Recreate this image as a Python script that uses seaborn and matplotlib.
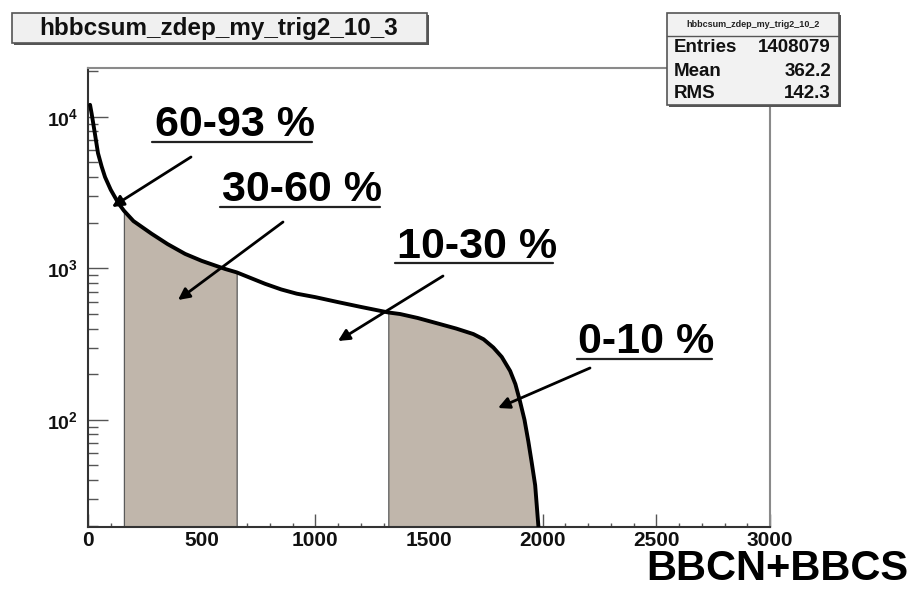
import matplotlib
matplotlib.use("Agg")
import matplotlib.pyplot as plt
import seaborn as sns
import numpy as np
import pandas as pd
from matplotlib.patches import Rectangle, FancyArrowPatch
from matplotlib.lines import Line2D
from matplotlib.ticker import MultipleLocator, LogLocator, NullFormatter, FuncFormatter

# ---- histogram of BBC north+south charge sum (log scale) ----
bbc_sum = [9, 16, 30, 44, 60, 75, 100, 133, 158, 200, 280, 350, 427, 500, 603,
           654, 779, 850, 918, 1000, 1100, 1200, 1321, 1373, 1450, 1549, 1620,
           1695, 1740, 1783, 1820, 1857, 1880, 1900, 1920, 1937, 1952, 1967,
           1981, 1995]
counts = [12000, 10500, 7800, 5750, 4700, 4000, 3300, 2700, 2400, 2050, 1690,
          1445, 1245, 1120, 990, 940, 790, 725, 680, 645, 598, 556, 511, 499,
          470, 428, 400, 368, 340, 300, 260, 210, 172, 133, 100, 72, 52, 37,
          20, 12]

# centrality classes highlighted with a fill (30-60 % and 0-10 %)
shaded_ranges = [(158, 654), (1321, 1995)]

hist_name = "hbbcsum_zdep_my_trig2_10_3"
stats_name = "hbbcsum_zdep_my_trig2_10_2"
stats_labels = ["Entries", "Mean", "RMS"]
stats_values = ["1408079", "362.2", "142.3"]

class_labels = ["60-93 %", "30-60 %", "10-30 %", "0-10 %"]
x_title = "BBCN+BBCS"

fill_color = "#c0b6ab"

sns.set_theme(style="white")
plt.rcParams["font.family"] = ["Liberation Sans", "DejaVu Sans"]
plt.rcParams["font.weight"] = "bold"
plt.rcParams["mathtext.fontset"] = "custom"
plt.rcParams["mathtext.rm"] = "Liberation Sans:bold"
plt.rcParams["mathtext.bf"] = "Liberation Sans:bold"
plt.rcParams["mathtext.it"] = "Liberation Sans:bold"
plt.rcParams["mathtext.default"] = "rm"

W, H = 912, 589
fig = plt.figure(figsize=(W / 100, H / 100), dpi=100)
fig.patch.set_facecolor("white")


def fx(px):
    return px / W


def fy(py):
    return 1 - py / H


ax = fig.add_axes([fx(88), fy(527), (770 - 88) / W, (527 - 68) / H])
ax.set_facecolor("white")

df = pd.DataFrame({"bbc": bbc_sum, "counts": counts})

for lo, hi in shaded_ranges:
    m = (df["bbc"] >= lo) & (df["bbc"] <= hi)
    ax.fill_between(df["bbc"][m], 1, df["counts"][m], facecolor=fill_color,
                    edgecolor="#5a5a5a", lw=0.9, zorder=1)

sns.lineplot(data=df, x="bbc", y="counts", ax=ax, color="black", lw=2.8,
             estimator=None, zorder=3)

ax.set_yscale("log")
ax.set_xlim(0, 3000)
ax.set_ylim(19.6, 21000)
ax.set_xlabel("")
ax.set_ylabel("")

# ROOT-like frame and ticks
for side in ["top", "right"]:
    ax.spines[side].set_color("#8a8a8a")
    ax.spines[side].set_linewidth(1.5)
for side in ["left", "bottom"]:
    ax.spines[side].set_color("#333333")
    ax.spines[side].set_linewidth(1.5)

ax.xaxis.set_major_locator(MultipleLocator(500))
ax.xaxis.set_minor_locator(MultipleLocator(100))
ax.yaxis.set_major_locator(LogLocator(base=10, numticks=10))
ax.yaxis.set_minor_locator(LogLocator(base=10, subs=np.arange(2, 10), numticks=20))
ax.yaxis.set_minor_formatter(NullFormatter())
ax.yaxis.set_major_formatter(FuncFormatter(lambda v, _: r"$10^{%d}$" % round(np.log10(v))))

ax.tick_params(axis="x", which="major", direction="in", length=9.4, width=1,
               color="#555555", top=False, bottom=True, pad=3, labelsize=15)
ax.tick_params(axis="x", which="minor", direction="in", length=3.2, width=1,
               color="#555555", top=False, bottom=True)
ax.tick_params(axis="y", which="major", direction="in", length=14.4, width=1,
               color="#555555", right=False, left=True, pad=7, labelsize=14)
ax.tick_params(axis="y", which="minor", direction="in", length=7.2, width=1,
               color="#555555", right=False, left=True)
for lab in ax.get_xticklabels() + ax.get_yticklabels():
    lab.set_fontweight("bold")
    lab.set_color("#111111")

# ---- title box ----
fig.patches.append(Rectangle((fx(14), fy(45)), (427 - 12) / W, (45 - 15) / H,
                             transform=fig.transFigure, facecolor="#555555",
                             edgecolor="none", zorder=5))
fig.patches.append(Rectangle((fx(12), fy(43)), (427 - 12) / W, (43 - 13) / H,
                             transform=fig.transFigure, facecolor="#f0f0f0",
                             edgecolor="#555555", lw=1.2, zorder=6))
fig.text(fx(219), fy(28.5), hist_name, ha="center", va="center", fontsize=17.5,
         fontweight="bold", color="#111111", zorder=7)

# ---- statistics box ----
fig.patches.append(Rectangle((fx(669), fy(107)), (839 - 667) / W, (107 - 15) / H,
                             transform=fig.transFigure, facecolor="#555555",
                             edgecolor="none", zorder=5))
fig.patches.append(Rectangle((fx(667), fy(105)), (839 - 667) / W, (105 - 13) / H,
                             transform=fig.transFigure, facecolor="#f2f2f2",
                             edgecolor="#555555", lw=1.2, zorder=6))
fig.lines.append(Line2D([fx(667), fx(839)], [fy(36), fy(36)], transform=fig.transFigure,
                        color="#555555", lw=1.0, zorder=7))
fig.text(fx(753), fy(24.5), stats_name, ha="center", va="center", fontsize=6.5,
         fontweight="bold", color="#222222", zorder=7)
for i, (lab, val) in enumerate(zip(stats_labels, stats_values)):
    yy = fy(48 + 23 * i)
    fig.text(fx(674), yy, lab, ha="left", va="center", fontsize=13.5,
             fontweight="bold", color="#111111", zorder=7)
    fig.text(fx(831), yy, val, ha="right", va="center", fontsize=13.5,
             fontweight="bold", color="#111111", zorder=7)

# ---- centrality class labels with arrows ----
label_pos = [(155, 136), (222, 201), (397, 258), (578, 353)]
underlines = [(152, 312, 142), (220, 380, 207), (395, 553, 263), (577, 712, 359)]
arrows = [((191, 157), (112, 207)), ((283, 222), (178, 300)),
          ((443, 276), (338, 341)), ((590, 368), (498, 408))]

for text, (lx, ly), (u0, u1, uy), (tail, tip) in zip(class_labels, label_pos,
                                                      underlines, arrows):
    fig.text(fx(lx), fy(ly), text, ha="left", va="baseline", fontsize=31,
             fontweight="bold", color="black", zorder=8)
    fig.lines.append(Line2D([fx(u0), fx(u1)], [fy(uy), fy(uy)],
                            transform=fig.transFigure, color="#222222", lw=1.6, zorder=8))
    fig.patches.append(FancyArrowPatch((fx(tail[0]), fy(tail[1])), (fx(tip[0]), fy(tip[1])),
                                       transform=fig.transFigure, arrowstyle="-|>",
                                       mutation_scale=17, lw=2.0, color="black",
                                       shrinkA=0, shrinkB=0, zorder=8))

# ---- axis title ----
fig.text(fx(908), fy(580), x_title, ha="right", va="baseline", fontsize=30,
         fontweight="bold", color="black")

fig.savefig("out.png", dpi=100)
